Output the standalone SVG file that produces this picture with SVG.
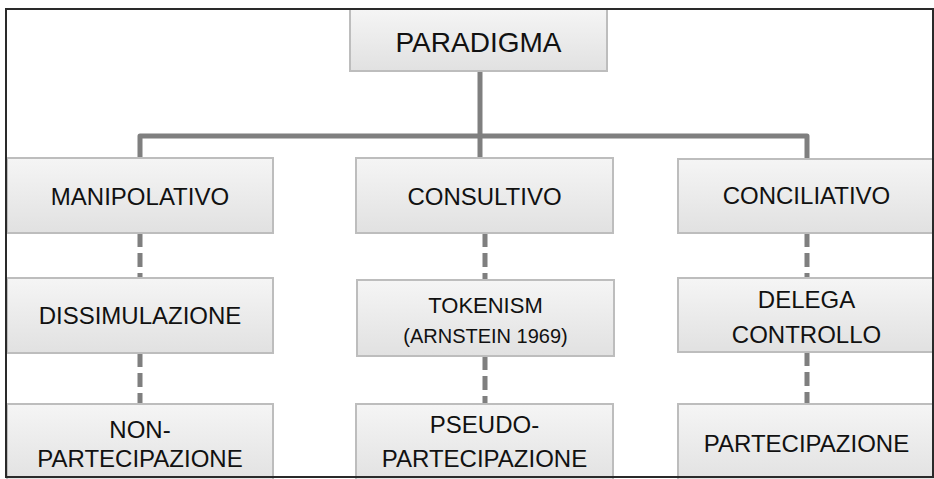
<svg xmlns="http://www.w3.org/2000/svg" width="934" height="479" viewBox="0 0 934 479">
<defs>
<linearGradient id="g" x1="0" y1="0" x2="0" y2="1">
<stop offset="0" stop-color="#f5f5f5"/>
<stop offset="1" stop-color="#e1e1e1"/>
</linearGradient>
<style>
.box{fill:url(#g);stroke:#bdbdbd;stroke-width:2}
.t{font-family:"Liberation Sans",Arial,sans-serif;font-size:24px;fill:#111;text-anchor:middle}
.sm{font-size:20px}
.solid{fill:none;stroke:#7f7f7f;stroke-width:5;stroke-linejoin:round}
.dash{fill:none;stroke:#7f7f7f;stroke-width:5;stroke-dasharray:14 6}
</style>
</defs>
<rect width="934" height="479" fill="#fff"/>
<g id="connectors">
<path class="solid" d="M480 71 V158"/>
<path class="solid" d="M140 158 V136 H807 V159"/>
<path class="dash" d="M140 233 V278"/>
<path class="dash" d="M140 353 V404"/>
<path class="dash" d="M485 233 V280"/>
<path class="dash" d="M485 356 V404"/>
<path class="dash" d="M807 233 V278"/>
<path class="dash" d="M807 352 V404"/>
</g>
<g id="paradigma"><rect class="box" x="350" y="9" width="257" height="62"/><text class="t" x="478.5" y="52" style="font-size:28px">PARADIGMA</text></g>
<g id="manipolativo"><rect class="box" x="7" y="158" width="266" height="75"/><text class="t" x="140" y="205">MANIPOLATIVO</text></g>
<g id="consultivo"><rect class="box" x="356" y="158" width="257" height="75"/><text class="t" x="484.5" y="205">CONSULTIVO</text></g>
<g id="conciliativo"><rect class="box" x="678" y="159" width="257" height="74"/><text class="t" x="806.5" y="204">CONCILIATIVO</text></g>
<g id="dissimulazione"><rect class="box" x="7" y="278" width="266" height="75"/><text class="t" x="140" y="324">DISSIMULAZIONE</text></g>
<g id="tokenism"><rect class="box" x="357" y="280" width="257" height="76"/><text class="t" x="485.5" y="313" style="font-size:22px">TOKENISM</text><text class="t sm" x="485.5" y="343">(ARNSTEIN 1969)</text></g>
<g id="delega"><rect class="box" x="678" y="278" width="257" height="74"/><text class="t" x="806.5" y="308">DELEGA</text><text class="t" x="806.5" y="343">CONTROLLO</text></g>
<g id="nonpartecipazione"><rect class="box" x="7" y="404" width="266" height="80"/><text class="t" x="140" y="438">NON-</text><text class="t" x="140" y="467">PARTECIPAZIONE</text></g>
<g id="pseudopartecipazione"><rect class="box" x="356" y="404" width="257" height="80"/><text class="t" x="484.5" y="433">PSEUDO-</text><text class="t" x="484.5" y="467">PARTECIPAZIONE</text></g>
<g id="partecipazione"><rect class="box" x="678" y="404" width="257" height="80"/><text class="t" x="806.5" y="452">PARTECIPAZIONE</text></g>
<rect x="6" y="9" width="927" height="468" fill="none" stroke="#2a2a2a" stroke-width="2"/>
</svg>
